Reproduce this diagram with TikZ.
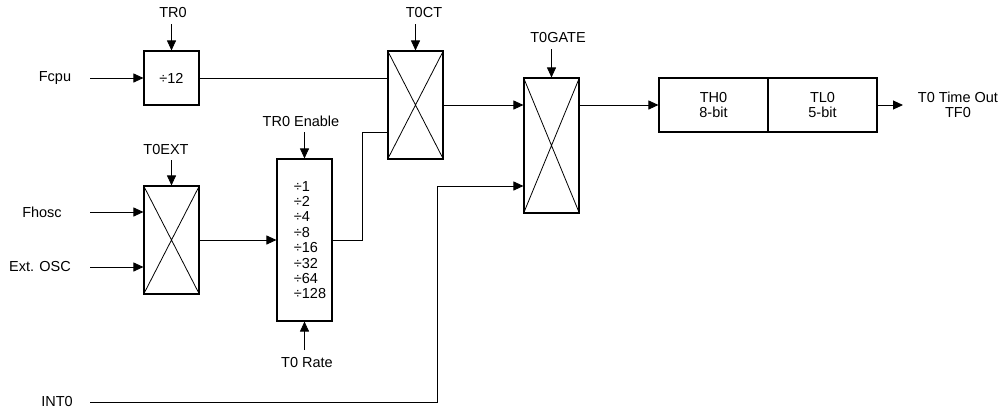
\documentclass[tikz,border=0pt]{standalone}
\usepackage{fontspec}
\setmainfont{Liberation Sans}
\usetikzlibrary{arrows.meta}
\begin{document}
\begin{tikzpicture}[x=1pt,y=-1pt,
  font=\fontsize{14.5}{15.4}\selectfont,
  blk/.style={draw, line width=1.1pt, inner sep=0pt, minimum width=55pt},
  lbl/.style={inner sep=0pt, align=center},
  wire/.style={line width=0.9pt},
  arr/.style={line width=0.9pt, -{Triangle[length=10pt,width=9pt]}},
  xline/.style={line width=0.8pt}]
\useasboundingbox (0,0) rectangle (1004,410);

% blocks
\node[blk, minimum height=54pt] (div12) at (171.5,78) {÷12};
\node[blk, minimum height=108pt] (t0ct) at (415.5,105) {};
\node[blk, minimum height=135pt] (t0gate) at (551.5,145.5) {};
\node[blk, minimum height=54pt, minimum width=109pt, align=center] (th0) at (713.5,105) {TH0\\8-bit};
\node[blk, minimum height=54pt, minimum width=109pt, align=center] (tl0) at (822.5,105) {TL0\\5-bit};
\node[blk, minimum height=108pt] (t0ext) at (171.5,240) {};
\node[blk, minimum height=162pt] (pre) at (304.5,240) {};
\node[lbl, align=left] (prelist) at (310,240) {÷1\\÷2\\÷4\\÷8\\÷16\\÷32\\÷64\\÷128};

% crosses
\foreach \n in {t0ct,t0gate,t0ext}{
  \draw[xline] (\n.north west) -- (\n.south east) (\n.north east) -- (\n.south west);
}

% labels
\node[lbl] (tr0) at (173,13) {TR0};
\node[lbl] (fcpu) at (55,78) {Fcpu};
\node[lbl] (t0extl) at (166,150) {T0EXT};
\node[lbl] (tr0en) at (301,121) {TR0 Enable};
\node[lbl] (t0ctl) at (424,13) {T0CT};
\node[lbl] (t0gatel) at (558,38) {T0GATE};
\node[lbl] (fhosc) at (42,212) {Fhosc};
\node[lbl] (extosc) at (40,267) {Ext. OSC};
\node[lbl] (int0) at (57,402) {INT0};
\node[lbl] (t0rate) at (307,363) {T0 Rate};
\node[lbl] (tout) at (958,105) {T0 Time Out\\TF0};

% free ends
\coordinate (fcpuS) at (90,78);
\coordinate (fhoscS) at (90,212);
\coordinate (extoscS) at (90,267);
\coordinate (int0S) at (90,402);
\coordinate (int0C) at (437,402);
\coordinate (int0U) at (437,186);
\coordinate (preC) at (362,240);
\coordinate (preU) at (362,132);
\coordinate (toutE) at (903,105);

% control arrows
\draw[arr] (div12.north |- 0,24) -- (div12.north);
\draw[arr] (t0ext.north |- 0,160) -- (t0ext.north);
\draw[arr] (pre.north |- 0,132) -- (pre.north);
\draw[arr] (pre.south |- 0,350) -- (pre.south);
\draw[arr] (t0ct.north |- 0,24) -- (t0ct.north);
\draw[arr] (t0gate.north |- 0,49) -- (t0gate.north);

% data path
\draw[arr] (fcpuS) -- (div12.west);
\draw[wire] (div12.east) -- (div12.east -| t0ct.west);
\draw[arr] (fhoscS) -- (fhoscS -| t0ext.west);
\draw[arr] (extoscS) -- (extoscS -| t0ext.west);
\draw[arr] (t0ext.east) -- (pre.west);
\draw[wire] (pre.east) -- (preC) -- (preU) -- (preU -| t0ct.west);
\draw[arr] (t0ct.east) -- (t0ct.east -| t0gate.west);
\draw[arr] (int0S) -- (int0C) -- (int0U) -- (int0U -| t0gate.west);
\draw[arr] (t0gate.east |- th0.west) -- (th0.west);
\draw[arr] (tl0.east) -- (toutE);
\end{tikzpicture}
\end{document}
